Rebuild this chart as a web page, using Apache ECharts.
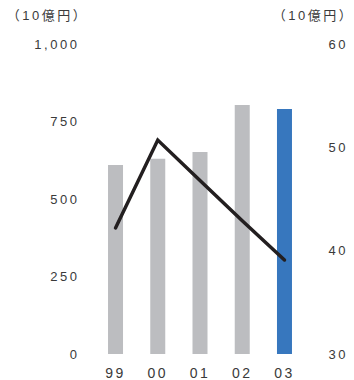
<!DOCTYPE html>
<html>
<head>
<meta charset="utf-8">
<script src="https://cdn.jsdelivr.net/npm/echarts@6/dist/echarts.min.js"></script>
<style>
  html, body { margin: 0; padding: 0; background: #fff; }
  #chart { width: 354px; height: 380px; }
  #chart text { letter-spacing: 2.5px; }
</style>
</head>
<body>
<div id="chart"></div>
<script>
// Fiscal years (last two digits)
const years = ['99', '00', '01', '02', '03'];
// Bar series, left axis (10億円)
const barValues = [610, 630, 652, 803, 790];
// Line series, right axis (10億円)
const lineValues = [42.2, 50.7, 46.8, 42.9, 39.1];
// Axis ticks
const leftTicks = [0, 250, 500, 750, 1000];
const rightTicks = [30, 40, 50, 60];
const unitLabel = '（10億円）';

const FONT = '"Liberation Sans", Arial, "Noto Sans CJK JP", sans-serif';
const TEXT = '#3a3a3a';
const GRAY = '#bcbdc0';
const BLUE = '#3777be';

const chart = echarts.init(document.getElementById('chart'), null, { renderer: 'svg' });

chart.setOption({
  animation: false,
  grid: { left: 94.4, right: 48.4, top: 44, bottom: 25.5, containLabel: false },
  xAxis: {
    type: 'category',
    data: years,
    axisLine: { show: false },
    axisTick: { show: false },
    axisLabel: { color: TEXT, fontSize: 14, fontFamily: FONT, margin: 12 }
  },
  yAxis: [
    {
      type: 'value',
      min: leftTicks[0],
      max: leftTicks[leftTicks.length - 1],
      interval: 250,
      name: unitLabel,
      nameLocation: 'end',
      nameGap: 22,
      nameTextStyle: { color: TEXT, fontSize: 13, fontFamily: FONT, align: 'center', padding: [0, 94, 0, 0] },
      splitLine: { show: false },
      axisLine: { show: false },
      axisTick: { show: false },
      axisLabel: {
        color: TEXT, fontSize: 13, fontFamily: FONT, margin: 15,
        formatter: v => v.toLocaleString('en-US')
      }
    },
    {
      type: 'value',
      min: rightTicks[0],
      max: rightTicks[rightTicks.length - 1],
      interval: 10,
      name: unitLabel,
      nameLocation: 'end',
      nameGap: 22,
      nameTextStyle: { color: TEXT, fontSize: 13, fontFamily: FONT, align: 'center', padding: [0, 0, 0, 16] },
      splitLine: { show: false },
      axisLine: { show: false },
      axisTick: { show: false },
      axisLabel: { color: TEXT, fontSize: 13, fontFamily: FONT, margin: 23 }
    }
  ],
  series: [
    {
      type: 'bar',
      yAxisIndex: 0,
      barWidth: 15,
      data: barValues.map((v, i) => ({
        value: v,
        itemStyle: { color: i === barValues.length - 1 ? BLUE : GRAY }
      }))
    },
    {
      type: 'line',
      yAxisIndex: 1,
      data: lineValues,
      symbol: 'none',
      lineStyle: { color: '#231f20', width: 3.5, cap: 'round', join: 'miter' }
    }
  ]
});
</script>
</body>
</html>
